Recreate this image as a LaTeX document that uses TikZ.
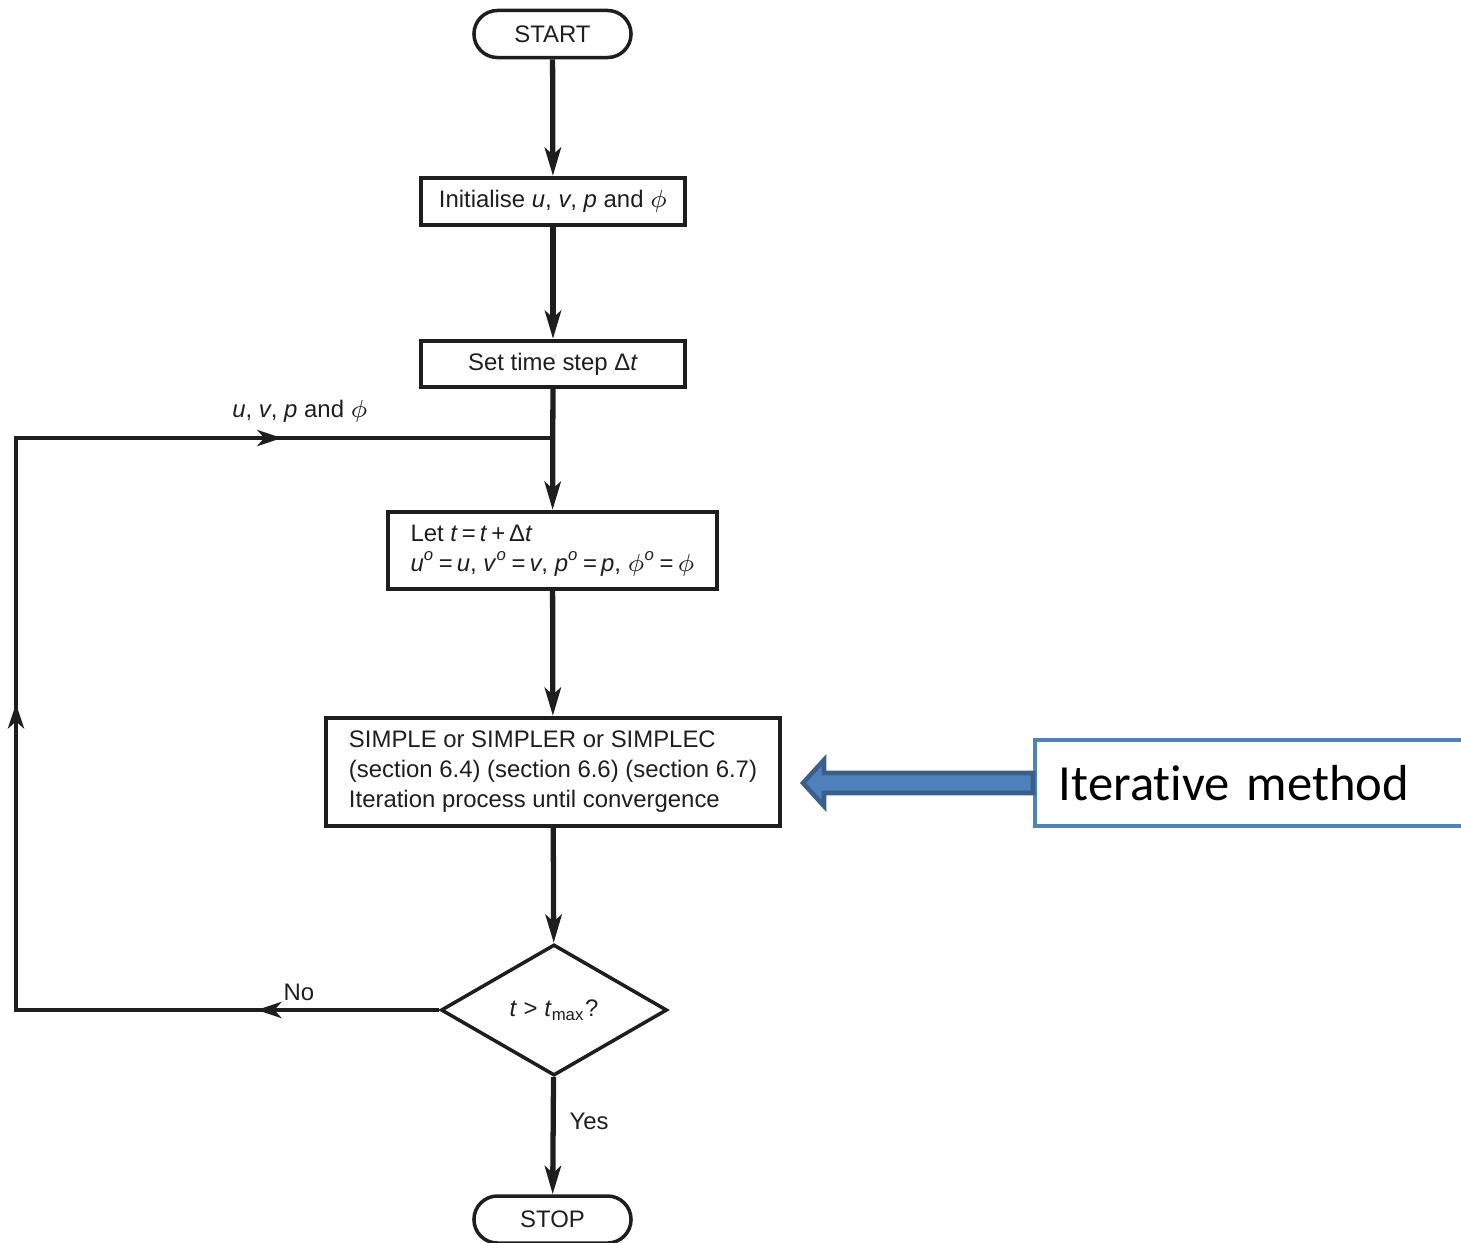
\documentclass[tikz,border=0pt]{standalone}
\usepackage{fontspec}
\setmainfont{Liberation Sans}
\newfontfamily\calib[Ligatures=NoCommon]{Carlito}
\usetikzlibrary{arrows.meta,shapes.geometric,decorations.markings}
\definecolor{offblue}{HTML}{4F81BD}
\definecolor{darkblue}{HTML}{3A5F8C}
\definecolor{ink}{HTML}{1E1E1E}
\newcommand{\flowfont}{\fontsize{6.8pt}{8.5pt}\selectfont}
\tikzset{
  box/.style={draw=ink, line width=1.2pt, inner sep=0pt, align=center, font=\flowfont, text=ink},
  term/.style={box, rounded corners=0.235cm, line width=1pt, minimum width=1.57cm, minimum height=0.47cm},
  flow/.style={draw=ink, line width=1.5pt, -{Stealth[length=8pt,width=4.6pt,inset=2pt]}},
  loopline/.style={draw=ink, line width=1.1pt, line join=miter},
  loopmarks/.style={postaction={decorate}, decoration={markings,
      mark=at position 0.119 with {\arrow{Stealth[length=7pt,width=4.6pt,inset=2pt]}},
      mark=at position 0.476 with {\arrow{Stealth[length=7pt,width=4.6pt,inset=2pt]}},
      mark=at position 0.823 with {\arrow{Stealth[length=7pt,width=4.6pt,inset=2pt]}}}},
  lbl/.style={font=\flowfont, inner sep=0pt, text=ink},
}
\begin{document}
\begin{tikzpicture}[x=0.01cm, y=-0.01cm]
\useasboundingbox (0,0) rectangle (1461,1242);
\clip (0,0) rectangle (1461,1242);
% nodes
\node[term] (start) at (552.5,34) {START};
\node[box, minimum width=2.64cm, minimum height=0.47cm] (init) at (553,201.5)
  {Initialise \textit{u}, \textit{v}, \textit{p} and $\phi$};
\node[box, minimum width=2.64cm, minimum height=0.46cm] (dt) at (553,364)
  {Set time step Δ\textit{t}};
\node[box, align=left, minimum width=3.29cm, minimum height=0.77cm] (let) at (552.5,550.5)
  {Let \textit{t}\,=\,\textit{t}\,+\,Δ\textit{t}\\
   \textit{u}\textsuperscript{\textit{o}}\,=\,\textit{u}, \textit{v}\textsuperscript{\textit{o}}\,=\,\textit{v}, \textit{p}\textsuperscript{\textit{o}}\,=\,\textit{p}, $\phi$\textsuperscript{\textit{o}}\,=\,$\phi$};
\node[box, align=left, minimum width=4.54cm, minimum height=1.08cm] (simple) at (553,772)
  {SIMPLE or SIMPLER or SIMPLEC\\(section 6.4) (section 6.6) (section 6.7)\\Iteration process until convergence};
\node[draw=ink, diamond, aspect=1.725, minimum width=2.26cm, minimum height=1.31cm,
      inner sep=0pt, line width=1pt, font=\flowfont, text=ink] (dec) at (554,1010)
  {\textit{t} > \textit{t}\textsubscript{max}?};
\node[term] (stop) at (552.5,1219.5) {STOP};
% connectors
\draw[flow] (start) -- (init);
\draw[flow] (init) -- (dt);
\draw[flow] (dt) -- (let);
\draw[flow] (let) -- (simple);
\draw[flow] (simple) -- (dec);
\draw[flow] (dec) -- (stop);
\coordinate (c1) at (16,1010);
\coordinate (c2) at (16,438);
\coordinate (j) at (553,438);
\draw[loopline, loopmarks] (dec.west) -- (c1) -- (c2) -- (j);
% labels
\node[lbl] (lab1) at (300,411) {\textit{u}, \textit{v}, \textit{p} and $\phi$};
\node[lbl] (no) at (299,992) {No};
\node[lbl] (yes) at (589,1121) {Yes};
% annotation
\node[draw=offblue, line width=1.1pt, anchor=west, minimum height=0.86cm, text width=4.19cm,
      inner xsep=0.24cm, align=left, font=\calib\fontsize{14.4pt}{16pt}\selectfont] (iter) at (1033,783)
  {Iterat\kern0pt ive method};
\draw[fill=offblue, draw=darkblue, line width=1.3pt, line join=miter]
  (iter.west |- 0,773) -- (824,773) -- (824,760) -- (803,783) -- (824,806) -- (824,793)
  -- (iter.west |- 0,793) -- cycle;
\end{tikzpicture}
\end{document}
